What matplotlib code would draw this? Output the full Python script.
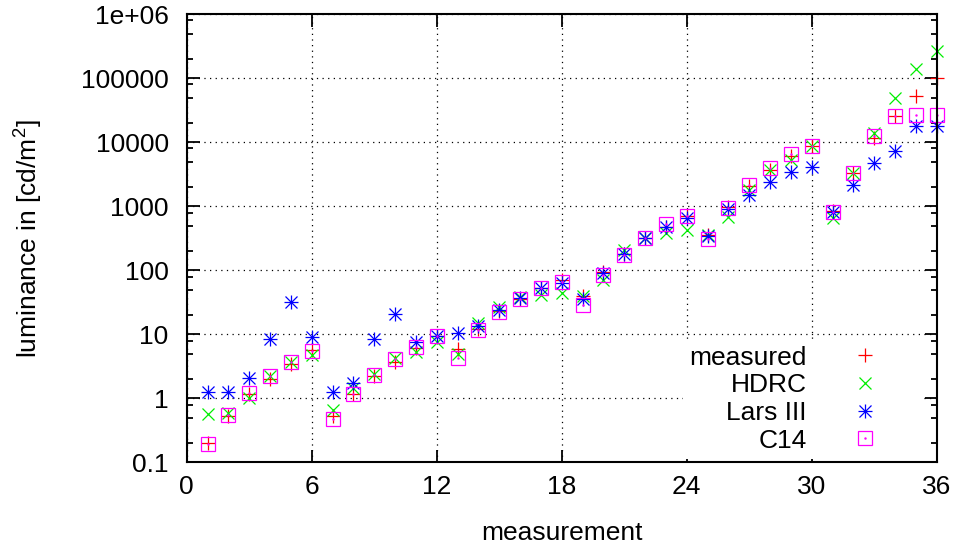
# Luminance per measurement, four devices compared on a log axis (gnuplot-like look)

import numpy as np
import matplotlib
matplotlib.use('Agg')
import matplotlib.pyplot as plt
from matplotlib.legend_handler import HandlerTuple
from matplotlib.ticker import FixedLocator, LogLocator, NullFormatter

plt.rcParams['font.family'] = ['Liberation Sans', 'DejaVu Sans']
plt.rcParams['font.size'] = 19
plt.rcParams['mathtext.fontset'] = 'custom'
plt.rcParams['mathtext.rm'] = 'Liberation Sans'
plt.rcParams['mathtext.default'] = 'regular'

MEASUREMENT = np.arange(1, 37)

MEASURED = [0.2, 0.52, 1.15, 2.0, 3.4, 5.6, 0.52, 1.15, 2.2, 3.7, 6.2, 9.3,
            6.0, 12, 23, 36, 52, 70, 39, 93, 180, 316, 480, 700,
            350, 960, 2100, 3700, 6100, 8800, 850, 3300, 11500, 25500, 53000, 100000]
HDRC = [0.57, 0.6, 1.0, 2.2, 3.7, 4.8, 0.66, 1.43, 2.4, 4.2, 5.3, 7.7,
        5.0, 15.2, 27, 38, 41, 44, 40, 70, 210, 316, 380, 430,
        360, 690, 1800, 3700, 5300, 8800, 650, 3300, 13800, 49000, 140000, 270000]
LARS = [1.27, 1.27, 2.05, 8.5, 32, 9.2, 1.27, 1.75, 8.5, 21, 7.7, 9.5,
        10.6, 13.5, 24, 37, 52, 63, 36, 90, 180, 316, 480, 650,
        345, 900, 1500, 2400, 3460, 4160, 820, 2150, 4700, 7300, 18000, 18000]
C14 = [0.19, 0.55, 1.2, 2.2, 3.7, 5.5, 0.47, 1.15, 2.3, 4.1, 6.4, 9.3,
       4.2, 11.7, 22, 36, 53, 66, 29, 85, 175, 316, 530, 710,
       305, 930, 2150, 3900, 6600, 8750, 810, 3350, 12600, 26000, 27000, 27000]

X_TICKS = [0, 6, 12, 18, 24, 30, 36]
Y_TICKS = [0.1, 1, 10, 100, 1000, 10000, 100000, 1000000]
Y_TICK_LABELS = ['0.1', '1', '10', '100', '1000', '10000', '100000', '1e+06']

MS = 9.5
MEW = 0.9

fig = plt.figure(figsize=(9.58, 5.45), dpi=100)
ax = fig.add_axes([0.1949, 0.1517, 0.7829, 0.8221])

h_meas, = ax.plot(MEASUREMENT, MEASURED, ls='none', marker='+', ms=MS, mew=MEW,
                  color='#ff0000', clip_on=False)
h_hdrc, = ax.plot(MEASUREMENT, HDRC, ls='none', marker='x', ms=MS * 0.95, mew=MEW,
                  color='#00ee00', clip_on=False)
# gnuplot's "*" point is a + and an x on top of each other
h_lars1, = ax.plot(MEASUREMENT, LARS, ls='none', marker='+', ms=MS, mew=MEW,
                   color='#0000ff', clip_on=False)
h_lars2, = ax.plot(MEASUREMENT, LARS, ls='none', marker='x', ms=MS * 0.95, mew=MEW,
                   color='#0000ff', clip_on=False)
h_c14a, = ax.plot(MEASUREMENT, C14, ls='none', marker='s', ms=MS, mew=MEW,
                  mfc='none', color='#ff00ff', clip_on=False)
h_c14b, = ax.plot(MEASUREMENT, C14, ls='none', marker='.', ms=1.5,
                  color='#ff00ff', clip_on=False)

ax.set_yscale('log')
ax.set_xlim(0, 36)
ax.set_ylim(0.1, 1e6)

ax.xaxis.set_major_locator(FixedLocator(X_TICKS))
ax.set_xticklabels([str(t) for t in X_TICKS])
ax.yaxis.set_major_locator(FixedLocator(Y_TICKS))
ax.set_yticklabels(Y_TICK_LABELS)
ax.yaxis.set_minor_locator(LogLocator(base=10, subs=[2, 5, 8]))
ax.yaxis.set_minor_formatter(NullFormatter())

ax.tick_params(which='both', direction='in', top=True, right=True, width=1.3)
ax.tick_params(which='major', length=9, pad=9)
ax.tick_params(axis='y', which='major', pad=13)
ax.tick_params(which='minor', length=4.5)
for sp in ax.spines.values():
    sp.set_linewidth(1.5)

ax.grid(True, which='major', color='black', linestyle=(0, (1, 3.5)), linewidth=0.9)
ax.set_axisbelow(True)

ax.set_xlabel('measurement', labelpad=16)
ax.set_ylabel(r'luminance in [cd/m$^2$]', labelpad=26)

leg = ax.legend([h_meas, h_hdrc, (h_lars1, h_lars2), (h_c14a, h_c14b)],
                ['measured', 'HDRC', 'Lars III', 'C14'],
                handler_map={tuple: HandlerTuple(ndivide=1, pad=0)},
                loc='upper right', bbox_to_anchor=(0.9777, 0.2752), borderaxespad=0,
                markerfirst=False, handlelength=3.7, handletextpad=0.35,
                labelspacing=0.14, borderpad=0.25,
                frameon=True, fancybox=False, framealpha=1,
                facecolor='white', edgecolor='none')
leg.get_frame().set_linewidth(0)
# right-align the entries so the symbols line up like gnuplot's key
for col in leg._legend_handle_box.get_children():
    col.align = 'right'

plt.savefig('out.png', dpi=100)
